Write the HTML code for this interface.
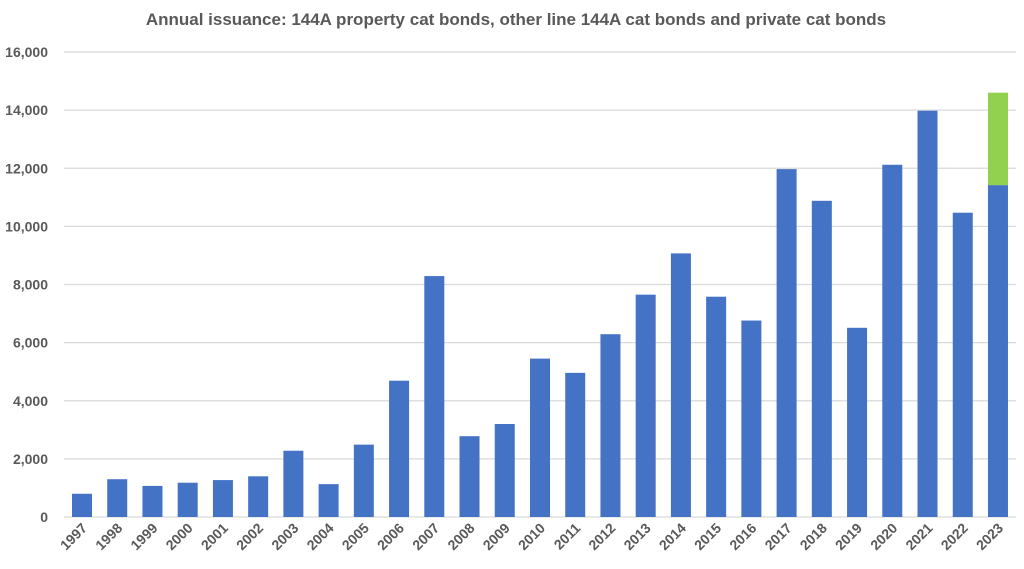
<!DOCTYPE html>
<html><head><meta charset="utf-8"><style>
html,body{margin:0;padding:0;background:#fff;}
svg{display:block;font-family:"Liberation Sans",Arial,sans-serif;}
</style></head><body>
<svg id="c" width="1024" height="569" xmlns="http://www.w3.org/2000/svg">
<rect width="1024" height="569" fill="#fff"/>
<text x="516" y="25" text-anchor="middle" font-size="17" font-weight="bold" fill="#595959">Annual issuance: 144A property cat bonds, other line 144A cat bonds and private cat bonds</text>
</svg>
<script>
var s=document.getElementById('c'),ns='http://www.w3.org/2000/svg';
function el(t,a,txt){var e=document.createElementNS(ns,t);for(var k in a)e.setAttribute(k,a[k]);if(txt!=null)e.textContent=txt;s.appendChild(e);return e;}
var y0=517,sc=465/16000;
for(var i=0;i<=8;i++){var y=y0-i*2000*sc;
el('line',{x1:64,x2:1016,y1:y,y2:y,stroke:'#d9d9d9','stroke-width':1.3});
el('text',{x:48,y:y+5,'text-anchor':'end','font-size':14,'font-weight':'bold',fill:'#595959'},i==0?'0':(i*2).toString()+',000');}
var v=[800,1300,1070,1180,1270,1400,2280,1130,2490,4690,8290,2780,3200,5450,4960,6290,7650,9070,7580,6760,11970,10880,6510,12120,13980,10470,11420];
for(var i=0;i<v.length;i++){var cx=82+i*35.23,h=v[i]*sc;
el('rect',{x:cx-10,y:y0-h,width:20,height:h,fill:'#4472c4'});
var yr=1997+i;
el('text',{x:0,y:0,'font-size':14,'font-weight':'bold',fill:'#595959','text-anchor':'end',transform:'translate('+(cx+6)+',529) rotate(-45)'},String(yr));}
var cx=82+26*35.23,hb=11420*sc,hg=(14600-11420)*sc;
el('rect',{x:cx-10,y:y0-hb-hg,width:20,height:hg,fill:'#92d050'});
</script>
</body></html>
